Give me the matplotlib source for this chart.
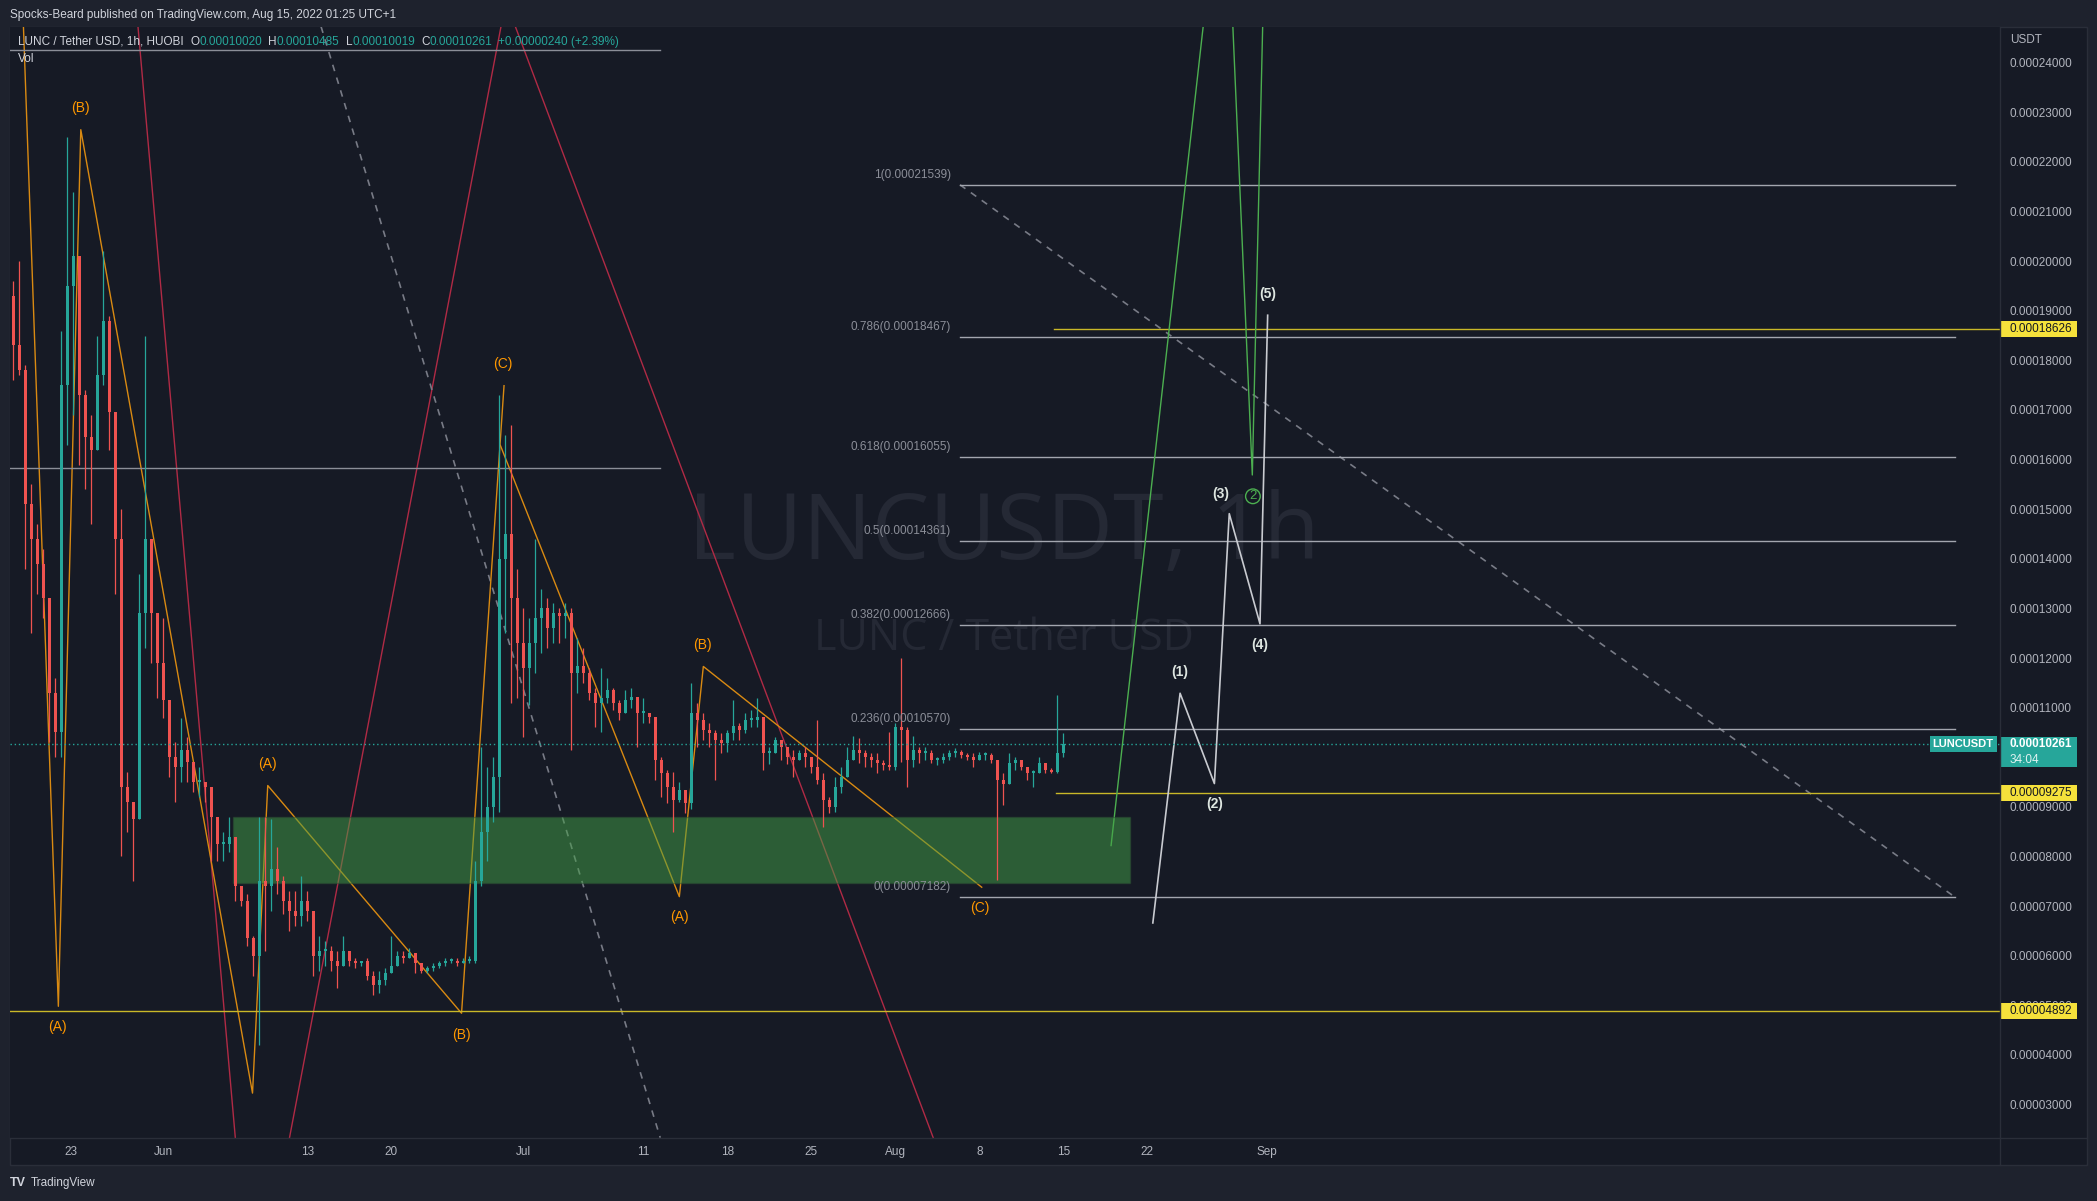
import numpy as np
import matplotlib
matplotlib.use('Agg')
import matplotlib.pyplot as plt
from matplotlib.patches import Rectangle
from matplotlib.lines import Line2D
from matplotlib.ticker import FuncFormatter

plt.rcParams['font.family'] = ['Liberation Sans', 'DejaVu Sans']

W, H, DPI = 2097, 1201, 100

# prices are in units of 1e-5 USDT, x is days from Jun 1 2022 (bar index based)
bar_start = -12.75
bar_days = 0.5
first_open = 19.3
highs = [19.6, 20.0, 17.9, 15.5, 14.7, 14.2, 13.2, 11.6, 18.6, 22.5,
         21.4, 20.1, 17.4, 16.9, 18.5, 20.2, 18.9, 16.95, 15.0, 9.7,
         9.1, 13.7, 18.5, 14.4, 12.9, 12.8, 11.15, 10.3, 10.8, 10.4,
         9.9, 9.8, 9.5, 9.4, 8.8, 8.5, 8.8, 8.4, 7.4, 7.25,
         6.4, 8.8, 8.8, 8.75, 8.2, 7.6, 7.3, 7.3, 7.6, 7.3,
         6.9, 6.4, 6.3, 6.2, 6.1, 6.4, 6.1, 5.95, 5.9, 5.95,
         5.7, 5.7, 5.75, 6.4, 6.1, 6.1, 6.15, 6.05, 5.85, 5.8,
         5.85, 5.9, 5.95, 5.95, 5.95, 5.95, 6.0, 7.9, 10.2, 9.8,
         10.0, 17.3, 16.5, 16.7, 13.8, 13.0, 12.8, 14.4, 13.4, 13.2,
         13.1, 13.0, 13.1, 13.0, 12.4, 12.2, 11.8, 11.4, 11.8, 11.6,
         11.4, 11.15, 11.35, 11.4, 11.22, 11.2, 10.9, 10.82, 10.0, 9.74,
         9.7, 9.5, 9.34, 11.5, 11.1, 10.9, 10.7, 10.55, 10.48, 10.55,
         11.15, 10.7, 10.9, 10.95, 11.2, 10.82, 10.2, 10.4, 10.35, 10.21,
         10.15, 10.15, 10.21, 10.01, 10.75, 9.68, 9.2, 9.6, 9.81, 10.2,
         10.42, 10.39, 10.15, 10.08, 10.08, 9.95, 10.5, 10.7, 12.0, 10.6,
         10.42, 10.2, 10.2, 10.15, 10.01, 10.08, 10.15, 10.18, 10.15, 10.08,
         10.08, 10.11, 10.11, 10.08, 9.95, 9.68, 10.08, 10.01, 9.95, 9.81,
         9.74, 10.01, 9.88, 9.78, 11.26, 10.48]
lows = [17.6, 17.7, 13.8, 12.5, 13.3, 12.8, 10.3, 10.0, 10.0, 16.3,
        16.9, 15.9, 15.4, 14.7, 16.2, 17.5, 16.2, 13.3, 8.0, 8.5,
        7.5, 8.75, 12.2, 11.9, 11.2, 10.8, 9.6, 9.1, 9.5, 9.5,
        9.3, 9.2, 9.1, 7.9, 7.9, 7.9, 8.1, 7.1, 7.0, 6.2,
        5.6, 4.2, 6.1, 6.9, 7.25, 6.85, 6.5, 6.6, 6.6, 6.7,
        5.6, 5.7, 5.8, 5.7, 5.35, 5.8, 5.8, 5.75, 5.8, 5.5,
        5.2, 5.25, 5.4, 5.65, 5.8, 5.85, 5.95, 5.65, 5.65, 5.65,
        5.7, 5.75, 5.8, 5.85, 5.8, 5.85, 5.85, 5.85, 7.4, 7.9,
        8.7, 8.9, 12.5, 11.1, 11.2, 10.4, 11.05, 11.7, 12.1, 12.2,
        12.3, 12.3, 12.4, 10.15, 11.3, 11.5, 11.15, 10.6, 10.5, 11.1,
        10.95, 10.75, 10.9, 11.0, 10.2, 10.7, 10.7, 9.55, 9.2, 9.07,
        8.5, 9.1, 8.87, 8.95, 10.2, 10.35, 10.2, 9.55, 10.08, 10.1,
        10.35, 10.35, 10.48, 10.6, 10.6, 9.75, 9.87, 10.08, 9.95, 9.87,
        9.6, 9.95, 9.81, 9.68, 9.47, 8.6, 8.87, 8.9, 9.27, 9.61,
        9.95, 9.88, 9.81, 9.81, 9.68, 9.74, 9.74, 9.74, 9.9, 9.41,
        9.81, 9.88, 9.95, 9.88, 9.85, 9.88, 9.95, 10.01, 9.98, 9.95,
        9.81, 9.95, 9.95, 9.88, 7.53, 9.04, 9.47, 9.74, 9.74, 9.54,
        9.41, 9.68, 9.68, 9.68, 9.68, 10.01]
closes = [18.3, 17.8, 15.1, 14.4, 13.9, 13.2, 11.3, 10.5, 17.5, 19.5,
          20.1, 17.3, 16.45, 16.2, 17.7, 18.8, 16.95, 14.4, 9.4, 9.1,
          8.75, 12.9, 14.4, 12.9, 11.9, 11.15, 10.0, 9.8, 10.15, 9.9,
          9.5, 9.5, 9.4, 8.8, 8.25, 8.25, 8.4, 7.4, 7.1, 6.35,
          6.0, 7.5, 7.4, 7.75, 7.5, 7.1, 6.9, 6.8, 7.1, 6.9,
          6.0, 6.1, 6.1, 5.9, 5.8, 6.1, 5.9, 5.85, 5.9, 5.6,
          5.4, 5.5, 5.65, 5.8, 6.0, 5.95, 6.05, 5.85, 5.7, 5.75,
          5.8, 5.85, 5.9, 5.9, 5.85, 5.9, 5.9, 7.5, 8.5, 9.0,
          9.6, 14.0, 14.5, 13.2, 12.3, 11.8, 12.3, 12.8, 13.0, 12.6,
          12.9, 12.84, 12.9, 11.7, 11.83, 11.7, 11.3, 11.1, 11.2, 11.36,
          11.09, 10.9, 11.16, 11.22, 10.9, 10.9, 10.82, 9.95, 9.68, 9.4,
          9.14, 9.34, 9.07, 10.9, 10.75, 10.55, 10.48, 10.35, 10.28, 10.48,
          10.62, 10.55, 10.75, 10.75, 10.82, 10.08, 10.08, 10.35, 10.21, 10.01,
          9.95, 10.08, 10.01, 9.81, 9.54, 9.14, 9.0, 9.41, 9.61, 9.95,
          10.15, 10.08, 10.01, 9.95, 9.88, 9.85, 9.81, 10.6, 10.55, 9.95,
          10.15, 10.08, 10.08, 9.95, 9.95, 10.01, 10.08, 10.11, 10.05, 10.01,
          9.95, 10.05, 10.05, 9.95, 9.54, 9.47, 9.88, 9.95, 9.81, 9.68,
          9.68, 9.88, 9.74, 9.71, 10.08, 10.261]
last_price = 10.261

x_ticks = [-7.67, 0, 12, 19, 30, 40, 47, 54, 61, 68, 75, 82, 92]
x_labels = ['23', 'Jun', '13', '20', 'Jul', '11', '18', '25', 'Aug', '8', '15', '22', 'Sep']
# 0.00010000 sits under the last-price tag, so it is left out
y_ticks = [3, 4, 5, 6, 7, 8, 9, 11, 12, 13, 14, 15, 16, 17, 18, 19, 20, 21, 22, 23, 24]

fib_levels = ['0', '0.236', '0.382', '0.5', '0.618', '0.786', '1']
fib_prices = [7.182, 10.570, 12.666, 14.361, 16.055, 18.467, 21.539]
fib_days = [66.39, 149.3]

abc_days = [-11.7, -8.75, -6.88, 7.43, 8.70, 24.85, 28.39]
abc_prices = [25.0, 4.98, 22.65, 3.23, 9.43, 4.84, 17.49]
abc2_days = [28.08, 43.0, 45.0, 68.2]
abc2_prices = [16.29, 7.19, 11.83, 7.38]
abc_labels = ['(A)', '(B)', '(A)', '(B)', '(C)', '(A)', '(B)', '(C)']
abc_label_days = [-8.82, -6.92, 8.68, 24.84, 28.3, 43.0, 44.9, 68.08]
abc_label_prices = [4.56, 23.08, 9.87, 4.40, 17.93, 6.77, 12.27, 6.96]

red_days = [-2.3, 7.42, 28.54, 70.27]
red_prices = [25.24, -1.6, 25.24, -1.6]
dash_days = [13.14, 41.41]
dash_prices = [24.73, 2.33]

impulse_days = [82.46, 84.73, 87.59, 88.83, 91.39, 92.03]
impulse_prices = [6.66, 11.29, 9.47, 14.91, 12.69, 18.91]
impulse_labels = ['(1)', '(2)', '(3)', '(4)', '(5)']
impulse_label_days = [84.73, 87.59, 88.15, 91.39, 92.03]
impulse_label_prices = [11.71, 9.06, 15.31, 12.27, 19.33]

green_days = [78.98, 88.44, 90.75, 91.98]
green_prices = [8.22, 28.57, 15.69, 28.57]
green_mark_day, green_mark_price = 90.8, 15.26

zone_days = [5.81, 80.56]
zone_prices = [7.47, 8.80]

yellow_levels = [18.626, 9.275, 4.892]
yellow_from = [74.2, 74.35, -12.78]
grey_levels = [24.26, 15.83]
grey_until = 41.4

# colours
BG_OUT = '#1e222d'
BG = '#161a25'
BORDER = '#2a2e39'
TXT = '#b2b5be'
UP = '#26a69a'
DOWN = '#ef5350'
ORANGE = '#ff9800'
YELLOW = '#f5e13b'


def fx(px):
    return px / W


def fy(py):
    return 1 - py / H


fig = plt.figure(figsize=(W / DPI, H / DPI), dpi=DPI, facecolor=BG_OUT)
fig.patches.append(Rectangle((fx(10), fy(1165)), 2077 / W, 1138 / H, transform=fig.transFigure,
                             facecolor=BG, edgecolor=BORDER, lw=1, zorder=-5))
ax = fig.add_axes([fx(10), fy(1138), 1990 / W, 1111 / H])
ax.set_facecolor(BG)
ax.set_xlim(-12.78, 153.06)
ax.set_ylim(2.325, 24.72)
for s in ax.spines.values():
    s.set_visible(False)

# watermark
ax.text(0.4995, 0.5428, 'LUNCUSDT, 1h', transform=ax.transAxes, ha='center', va='center',
        fontsize=66, color='#252935', family='Open Sans', zorder=0.5)
ax.text(0.4995, 0.449, 'LUNC / Tether USD', transform=ax.transAxes, ha='center', va='center',
        fontsize=31, color='#252935', family='Open Sans', zorder=0.5)

# drawings
ax.plot(red_days, red_prices, color='#b02a45', lw=1, zorder=2)
ax.plot(dash_days, dash_prices, color='#787b86', lw=1.2, ls=(0, (4, 4)), zorder=2)
ax.plot(abc_days, abc_prices, color='#d98a12', lw=1, zorder=2)
ax.plot(abc2_days, abc2_prices, color='#d98a12', lw=1, zorder=2)
ax.plot(fib_days, [fib_prices[-1], fib_prices[0]], color='#787b86', lw=1.2, ls=(0, (4, 4)), zorder=2)
for lvl, p in zip(fib_levels, fib_prices):
    ax.plot(fib_days, [p, p], color='#a3a6af', lw=1, zorder=2)
    ax.text(fib_days[0] - 0.75, p + 0.2, f'{lvl}({p * 1e-5:.8f})', ha='right', va='center',
            fontsize=8.5, color='#8b8e98', zorder=5)
for p, x0 in zip(yellow_levels, yellow_from):
    ax.plot([x0, 153.06], [p, p], color='#c9b828', lw=1, zorder=2)
for p in grey_levels:
    ax.plot([-12.78, grey_until], [p, p], color='#8b8e98', lw=1, zorder=2)
ax.plot(green_days, green_prices, color='#4caf50', lw=1, zorder=2)
ax.plot(impulse_days, impulse_prices, color='#c9cbd1', lw=1.2, zorder=2)
ax.add_patch(Rectangle((zone_days[0], zone_prices[0]), zone_days[1] - zone_days[0],
                       zone_prices[1] - zone_prices[0], facecolor='#43a047', alpha=0.5,
                       edgecolor='#2b4f33', lw=1, zorder=3))

# candles
closes_a = np.array(closes)
opens = np.r_[first_open, closes_a[:-1]]
days = bar_start + bar_days * (np.arange(len(closes_a)) + 0.5)
hi = np.maximum(highs, np.maximum(opens, closes_a))
lo = np.minimum(lows, np.minimum(opens, closes_a))
cols = np.where(closes_a >= opens, UP, DOWN)
ax.vlines(days, lo, hi, colors=cols, lw=0.9, zorder=4)
body = np.maximum(np.abs(closes_a - opens), 0.04)
ax.bar(days, body, bottom=np.minimum(opens, closes_a), width=0.22, color=cols, lw=0, zorder=4)
ax.axhline(last_price, color=UP, lw=1, ls=(0, (1, 2)), zorder=4.5)

# labels
for t, d, p in zip(abc_labels, abc_label_days, abc_label_prices):
    ax.text(d, p, t, ha='center', va='center', fontsize=10, color=ORANGE, zorder=6)
for t, d, p in zip(impulse_labels, impulse_label_days, impulse_label_prices):
    ax.text(d, p, t, ha='center', va='center', fontsize=10, fontweight='bold', color='#dde5e0', zorder=6)
ax.text(green_mark_day, green_mark_price, '2', ha='center', va='center', fontsize=9.5, color='#4caf50',
        bbox=dict(boxstyle='circle,pad=0.1', fc='none', ec='#4caf50', lw=1), zorder=6)

# axes ticks
ax.set_xticks(x_ticks)
ax.set_xticklabels(x_labels)
ax.set_yticks(y_ticks)
ax.yaxis.tick_right()
ax.yaxis.set_major_formatter(FuncFormatter(lambda v, _: f'{v * 1e-5:.8f}'))
ax.tick_params(axis='both', length=0, labelsize=8.5, labelcolor=TXT)
ax.tick_params(axis='y', pad=7.2)
ax.tick_params(axis='x', pad=5.8)
for lab in ax.get_yticklabels():
    lab.set_horizontalalignment('left')

# price tags on the scale
yx = ax.get_yaxis_transform()
for p in yellow_levels:
    ax.add_patch(Rectangle((1.0, p - 0.16), 77 / 1990, 0.32, transform=yx, facecolor=YELLOW,
                           lw=0, clip_on=False, zorder=10))
    ax.text(1 + 10 / 1990, p, f'{p * 1e-5:.8f}', transform=yx, ha='left', va='center',
            fontsize=8.5, color='#131722', clip_on=False, zorder=11)
ax.add_patch(Rectangle((1.0, last_price - 0.456), 77 / 1990, 0.605, transform=yx, facecolor=UP,
                       lw=0, clip_on=False, zorder=10))
ax.text(1 + 10 / 1990, last_price, f'{last_price * 1e-5:.8f}', transform=yx, ha='left', va='center',
        fontsize=8.5, fontweight='bold', color='white', clip_on=False, zorder=11)
ax.text(1 + 10 / 1990, last_price - 0.31, '34:04', transform=yx, ha='left', va='center',
        fontsize=8.5, color='#e0f2f1', clip_on=False, zorder=11)
ax.add_patch(Rectangle((1920 / 1990, last_price - 0.16), 67 / 1990, 0.32, transform=yx,
                       facecolor=UP, lw=0, zorder=10))
ax.text(1953 / 1990, last_price, 'LUNCUSDT', transform=yx, ha='center', va='center',
        fontsize=8, fontweight='bold', color='white', zorder=11)

# frame separators
fig.add_artist(Line2D([fx(2000), fx(2000)], [fy(27), fy(1165)], color=BORDER, lw=1))
fig.add_artist(Line2D([fx(10), fx(2087)], [fy(1138), fy(1138)], color=BORDER, lw=1))

# header and legend
fig.text(fx(10), fy(15), 'Spocks-Beard published on TradingView.com, Aug 15, 2022 01:25 UTC+1',
         ha='left', va='center', fontsize=8.5, color='#d1d4dc')
fig.text(fx(2010), fy(40), 'USDT', ha='left', va='center', fontsize=8.5, color=TXT)
fig.text(fx(18), fy(59), 'Vol', ha='left', va='center', fontsize=8.5, color='#d1d4dc')
legend_parts = [('LUNC / Tether USD, 1h, HUOBI', '#d1d4dc', 7), ('O', '#d1d4dc', 0),
                ('0.00010020', UP, 6), ('H', '#d1d4dc', 0), ('0.00010485', UP, 6),
                ('L', '#d1d4dc', 0), ('0.00010019', UP, 6), ('C', '#d1d4dc', 0),
                ('0.00010261', UP, 6), ('+0.00000240 (+2.39%)', UP, 0)]
renderer = fig.canvas.get_renderer()
xpos = 18
for s, c, gap in legend_parts:
    t = fig.text(fx(xpos), fy(42), s, ha='left', va='center', fontsize=8.5, color=c)
    xpos = t.get_window_extent(renderer).x1 + gap

fig.text(fx(10), fy(1183), 'TV', ha='left', va='center', fontsize=9, fontweight='heavy', color='#d1d4dc')
fig.text(fx(31), fy(1183), 'TradingView', ha='left', va='center', fontsize=8.5, color='#d1d4dc')

fig.savefig('out.png', dpi=DPI, facecolor=BG_OUT)
